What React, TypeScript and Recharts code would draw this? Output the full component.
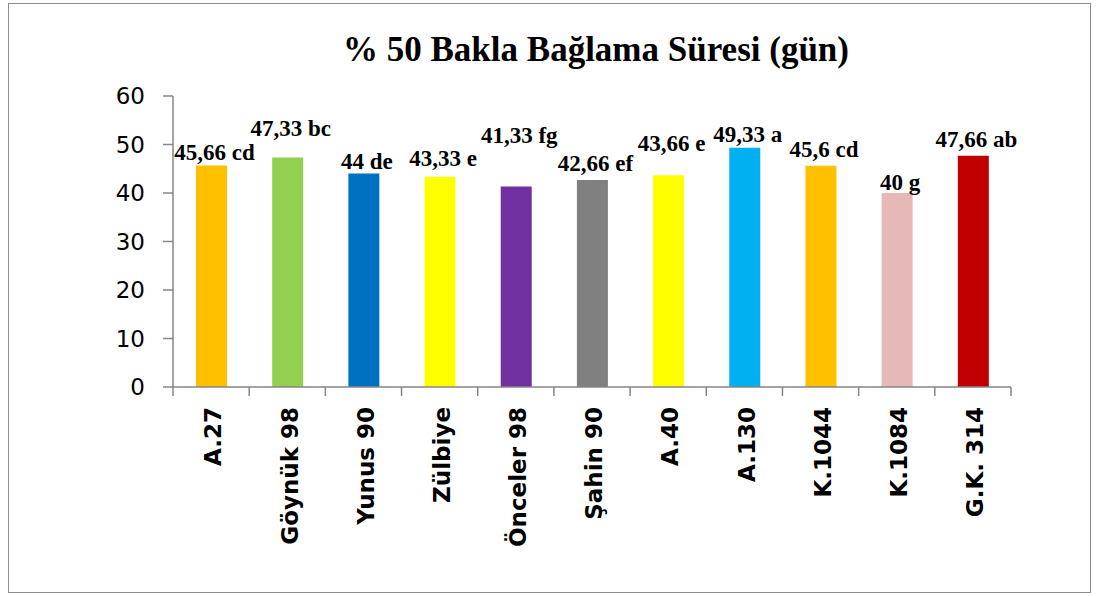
import { Bar, BarChart, Cell, LabelList, XAxis, YAxis } from 'recharts'

const VARIETIES = [
  'A.27',
  'Göynük 98',
  'Yunus 90',
  'Zülbiye',
  'Önceler 98',
  'Şahin 90',
  'A.40',
  'A.130',
  'K.1044',
  'K.1084',
  'G.K. 314',
]
const DAYS = [45.66, 47.33, 44, 43.33, 41.33, 42.66, 43.66, 49.33, 45.6, 40, 47.66]
const GROUPS = ['cd', 'bc', 'de', 'e', 'fg', 'ef', 'e', 'a', 'cd', 'g', 'ab']
const Y_TICKS = [0, 10, 20, 30, 40, 50, 60]

// Excel-ish fills, one per bar
const BAR_COLORS = [
  '#FFC000',
  '#92D050',
  '#0070C0',
  '#FFFF00',
  '#7030A0',
  '#808080',
  '#FFFF00',
  '#00B0F0',
  '#FFC000',
  '#E6B9B8',
  '#C00000',
]

// how far each value label floats above its bar (the source placed them by hand)
const LABEL_LIFT = [13, 29, 12, 18, 51, 17, 32, 13, 16, 11, 16]

const AXIS_GRAY = '#868686'
const PLOT_LEFT = 173
const PLOT_RIGHT = 1011
const BAND = (PLOT_RIGHT - PLOT_LEFT) / VARIETIES.length

const chartData = VARIETIES.map((name, i) => ({
  name,
  days: DAYS[i],
  label: `${String(DAYS[i]).replace('.', ',')} ${GROUPS[i]}`,
}))

function CategoryTick(props: any) {
  const { x, y, payload, index } = props
  const left = x - BAND / 2
  const isLast = index === VARIETIES.length - 1
  return (
    <g>
      <line x1={left} x2={left} y1={y - 8} y2={y + 1} stroke={AXIS_GRAY} strokeWidth={1.5} />
      {isLast && (
        <line x1={x + BAND / 2} x2={x + BAND / 2} y1={y - 8} y2={y + 1} stroke={AXIS_GRAY} strokeWidth={1.5} />
      )}
      <text
        x={x + 2}
        y={y + 12}
        transform={`rotate(-90, ${x + 2}, ${y + 12})`}
        textAnchor="end"
        dy="0.36em"
        fill="#000"
        fontFamily="'DejaVu Sans', sans-serif"
        fontWeight="bold"
        fontSize={23}
      >
        {payload.value}
      </text>
    </g>
  )
}

function ValueLabel(props: any) {
  const { x, y, width, value, index } = props
  return (
    <text
      x={x + width / 2 + 3}
      y={y - LABEL_LIFT[index]}
      textAnchor="middle"
      dominantBaseline="central"
      fill="#000"
      fontFamily="'Liberation Serif', 'Times New Roman', serif"
      fontWeight="bold"
      fontSize={23}
    >
      {value}
    </text>
  )
}

export default function App() {
  return (
    <div>
      <div
        style={{
          position: 'absolute',
          left: 8,
          top: 3,
          width: 1081,
          height: 588,
          border: '1.5px solid #8c8c8c',
          background: '#fff',
        }}
      />
      <div
        style={{
          position: 'absolute',
          left: 95,
          top: 28,
          width: 1002,
          textAlign: 'center',
          fontFamily: "'Liberation Serif', 'Times New Roman', serif",
          fontWeight: 'bold',
          fontSize: 35,
          lineHeight: '44px',
          color: '#000',
        }}
      >
        % 50 Bakla Bağlama Süresi (gün)
      </div>
      <div style={{ position: 'absolute', left: 0, top: 0 }}>
        <BarChart
          width={1097}
          height={596}
          data={chartData}
          margin={{ top: 96, right: 1097 - PLOT_RIGHT, bottom: 9, left: 113 }}
          barCategoryGap={0}
        >
          <XAxis
            dataKey="name"
            interval={0}
            height={200}
            axisLine={{ stroke: AXIS_GRAY, strokeWidth: 1.5 }}
            tickLine={false}
            tick={<CategoryTick />}
          />
          <YAxis
            width={60}
            domain={[0, 60]}
            ticks={Y_TICKS}
            interval={0}
            axisLine={{ stroke: AXIS_GRAY, strokeWidth: 1.5 }}
            tickLine={{ stroke: AXIS_GRAY, strokeWidth: 1.5 }}
            tickSize={10}
            tickMargin={18}
            tick={{ fill: '#000', fontSize: 23, fontFamily: "'DejaVu Sans', sans-serif" }}
          />
          <Bar dataKey="days" barSize={31} isAnimationActive={false}>
            {chartData.map((d, i) => (
              <Cell key={d.name} fill={BAR_COLORS[i]} />
            ))}
            <LabelList dataKey="label" content={<ValueLabel />} />
          </Bar>
        </BarChart>
      </div>
    </div>
  )
}
